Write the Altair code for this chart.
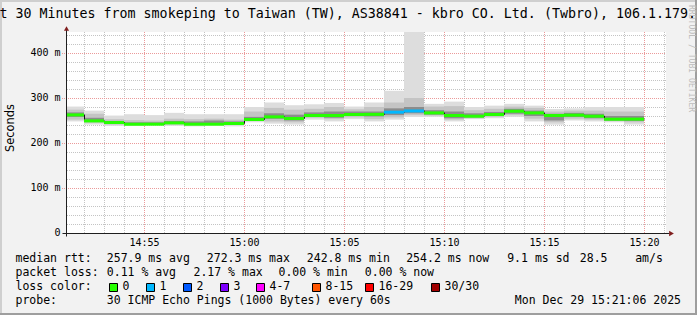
import altair as alt
import pandas as pd

# ---------------- data ----------------
# end of each one-minute step, minutes after 14:00 (52 -> 14:52 ... 80 -> 15:20)
step_end = list(range(52, 81))
median_ms = [263.6, 250.2, 246.6, 242.8, 242.9, 245.8, 242.9, 242.9, 244.4, 253.3,
             259.2, 255.5, 262.2, 262.2, 264.4, 264.8, 269.6, 272.3, 268.0, 262.2,
             260.7, 264.4, 271.8, 268.0, 262.2, 263.0, 260.7, 254.0, 254.2]
loss_pings = [0, 0, 0, 0, 0, 0, 0, 0, 0, 0, 0, 0, 0, 0, 0, 0, 1, 1, 0, 0,
              0, 0, 0, 0, 0, 0, 0, 0, 0]
smoke_outer_hi = [281, 272, 261, 264, 262, 267, 264, 264, 264, 280, 290, 284, 286, 289, 281,
                  290, 316, 470, 287, 292, 280, 283, 287, 283, 275.5, 277, 280, 280, 280]
smoke_outer_lo = [248, 241, 238, 238, 239, 238, 237, 238, 237, 246, 243, 241, 252, 248, 253,
                  248, 252, 258, 258, 248, 253, 255, 258, 248, 240.7, 250, 248, 246, 241]
smoke_mid_hi = [274, 265, 253, 251, 250, 254, 253, 254, 252, 270, 278, 274, 276, 280, 275,
                280, 290, 300, 281, 282, 273, 276, 281, 278, 270, 272, 272, 270, 270]
smoke_mid_lo = [252, 245, 241, 239, 240, 241, 239, 240, 240, 249, 248, 246, 256, 253, 257,
                253, 257, 262, 261, 252, 255, 258, 262, 254, 246, 254, 252, 249, 246]
smoke_core_hi = [268, 256, 249, 246, 246, 249, 248, 250, 248, 258, 266, 263, 268, 270, 270,
                 270, 277, 280, 273, 270, 266, 269, 276, 272, 265, 267, 265, 260, 260]
smoke_core_lo = [258, 247, 243, 240, 241, 243, 240, 241, 241, 250, 254, 250, 258, 256, 260,
                 259, 262, 266, 263, 255, 257, 260, 265, 260, 250, 258, 255, 250, 249]

loss_labels = ["0", "1", "2", "3", "4-7", "8-15", "16-29", "30/30"]
loss_colors = ["#26ff00", "#00b8ff", "#0059ff", "#7e00ff", "#ff00ff", "#ff5500", "#ff0000", "#a00000"]
stat_names = ["avg", "max", "min", "now"]
rtt_stats = [257.9, 272.3, 242.8, 254.2]
loss_stats = [0.11, 2.17, 0.00, 0.00]
rtt_sd = 9.1
rtt_am = 28.5
x_tick_values = [55, 60, 65, 70, 75, 80]
x_tick_labels = ["14:55", "15:00", "15:05", "15:10", "15:15", "15:20"]
y_tick_values = [0, 100, 200, 300, 400]
y_tick_labels = ["0\u00a0\u00a0", "100 m", "200 m", "300 m", "400 m"]
title_text = "Last 30 Minutes from smokeping to Taiwan (TW), AS38841 - kbro CO. Ltd. (Twbro), 106.1.179."
probe_text = "30 ICMP Echo Pings (1000 Bytes) every 60s"
date_text = "Mon Dec 29 15:21:06 2025"
watermark_text = "RRDTOOL / TOBI OETIKER"

# ---------------- layout / style ----------------
PL, PT, PW, PH = 66, 32, 600, 201
MONO = "DejaVu Sans Mono"
SANS = "DejaVu Sans"
BG = "#f2f2f2"
X = alt.Scale(domain=[51.1, 81.1], nice=False, zero=False)
Y = alt.Scale(domain=[0, 446.67], nice=False, zero=False)

seg_start = [51] + step_end[:-1]

# smoke bands
rows = []
for lvl, (his, los) in enumerate([(smoke_outer_hi, smoke_outer_lo),
                                  (smoke_mid_hi, smoke_mid_lo),
                                  (smoke_core_hi, smoke_core_lo)]):
    for i in range(len(step_end)):
        rows.append({"t0": seg_start[i], "t1": step_end[i], "lo": los[i], "hi": his[i], "lvl": lvl})
smoke_df = pd.DataFrame(rows)

smoke = alt.Chart(smoke_df).mark_rect(clip=True).encode(
    x=alt.X("t0:Q", scale=X, axis=None), x2="t1:Q",
    y=alt.Y("lo:Q", scale=Y, axis=None), y2="hi:Q",
    color=alt.Color("lvl:O", scale=alt.Scale(domain=[0, 1, 2], range=["#dddddd", "#c4c4c4", "#8c8c8c"]), legend=None),
)

step_df = pd.DataFrame({"t": seg_start + [step_end[-1]], "m": median_ms + [median_ms[-1]]})
step = alt.Chart(step_df).mark_line(interpolate="step-after", color="#111111", strokeWidth=1,
                                    clip=True, xOffset=0.5, yOffset=0.5).encode(
    x=alt.X("t:Q", scale=X, axis=None), y=alt.Y("m:Q", scale=Y, axis=None))

med_df = pd.DataFrame({"t0": seg_start, "t1": step_end, "m": median_ms,
                       "col": [loss_colors[l] for l in loss_pings]})
med = alt.Chart(med_df).mark_rule(strokeWidth=3, clip=True, yOffset=0.5).encode(
    x=alt.X("t0:Q", scale=X, axis=None), x2="t1:Q",
    y=alt.Y("m:Q", scale=Y, axis=None), color=alt.Color("col:N", scale=None))

# grid
minor_x = [v for v in range(52, 82) if v % 5]
minor_y = [v for v in range(20, 460, 20) if v % 100]
major_y = [v for v in y_tick_values if v > 0]

gx_minor = alt.Chart(pd.DataFrame({"t": minor_x})).mark_rule(
    color="#c4c4c4", strokeDash=[1, 1], xOffset=0.5).encode(x=alt.X("t:Q", scale=X, axis=None))
gy_minor = alt.Chart(pd.DataFrame({"v": minor_y})).mark_rule(
    color="#c4c4c4", strokeDash=[1, 1], yOffset=0.5).encode(y=alt.Y("v:Q", scale=Y, axis=None))
gx_major = alt.Chart(pd.DataFrame({"t": x_tick_values})).mark_rule(
    color="#eb9a9a", strokeDash=[1, 1], xOffset=0.5).encode(x=alt.X("t:Q", scale=X, axis=None))
gy_major = alt.Chart(pd.DataFrame({"v": major_y})).mark_rule(
    color="#eb9a9a", strokeDash=[1, 1], yOffset=0.5).encode(
    y=alt.Y("v:Q", scale=Y, axis=None), x=alt.value(-4), x2=alt.value(PW))

# tick labels placed through the scales
xlab = alt.Chart(pd.DataFrame({"t": x_tick_values, "lab": x_tick_labels})).mark_text(
    font=MONO, fontSize=10, color="#000000", align="center", baseline="middle", xOffset=0.5).encode(
    x=alt.X("t:Q", scale=X, axis=None), y=alt.value(242.7 - PT), text="lab:N")
ylab = alt.Chart(pd.DataFrame({"v": y_tick_values, "lab": y_tick_labels})).mark_text(
    font=MONO, fontSize=10, color="#000000", align="right", baseline="middle", yOffset=0.3).encode(
    y=alt.Y("v:Q", scale=Y, axis=None), x=alt.value(60.5 - PL), text="lab:N")

# axes lines and arrows (decoration, pixel space)
AX = "#1f1f1f"
xaxis = alt.Chart(pd.DataFrame({"a": [0]})).mark_rule(color=AX, strokeWidth=1).encode(
    x=alt.value(-3.5), x2=alt.value(603.5), y=alt.value(201.5))
yaxis = alt.Chart(pd.DataFrame({"a": [0]})).mark_rule(color=AX, strokeWidth=1).encode(
    x=alt.value(0.5), y=alt.value(-2), y2=alt.value(204.5))
arrow_x = alt.Chart(pd.DataFrame({"a": [0]})).mark_point(
    shape="triangle-right", filled=True, color="#801f1f", size=30, opacity=1).encode(
    x=alt.value(605.5), y=alt.value(201.5))
arrow_y = alt.Chart(pd.DataFrame({"a": [0]})).mark_point(
    shape="triangle-up", filled=True, color="#801f1f", size=26, opacity=1).encode(
    x=alt.value(0.5), y=alt.value(-3.5))


def text_layer(items, size, font, align="left", color="#000000", angle=0):
    df = pd.DataFrame(items, columns=["ax", "ay", "txt"])
    df["px"] = df["ax"] - PL
    df["py"] = df["ay"] - PT
    mk = dict(align=align, baseline="middle", font=font, fontSize=size, color=color)
    if angle:
        mk["angle"] = angle
    return alt.Chart(df).mark_text(**mk).encode(
        x=alt.X("px:Q", scale=None, axis=None), y=alt.Y("py:Q", scale=None, axis=None), text="txt:N")


ROWS_Y = [259.3, 273.3, 287.3, 301.3]
RTT_X = [106.8, 206.8, 306.8, 406.2]
LOSS_X = [106.8, 193.5, 278.5, 364.8]
SQ_X = [109, 146, 183, 220, 256, 312, 365, 431]

legend_items = [(15.5, ROWS_Y[0], "median rtt:"), (15.5, ROWS_Y[1], "packet loss:"),
                (15.5, ROWS_Y[2], "loss color:"), (15.5, ROWS_Y[3], "probe:")]
for i, n in enumerate(stat_names):
    legend_items.append((RTT_X[i], ROWS_Y[0], f"{rtt_stats[i]:.1f} ms {n}"))
    legend_items.append((LOSS_X[i], ROWS_Y[1], f"{loss_stats[i]:.2f} % {n}"))
legend_items += [(507.2, ROWS_Y[0], f"{rtt_sd:.1f} ms sd"), (579.8, ROWS_Y[0], f"{rtt_am:.1f}"),
                 (635.2, ROWS_Y[0], "am/s"), (106.8, ROWS_Y[3], probe_text)]
for i, lab in enumerate(loss_labels):
    legend_items.append((SQ_X[i] + 13.5, ROWS_Y[2], lab))

legend_text = text_layer(legend_items, 11.5, MONO)
date_layer = text_layer([(681, ROWS_Y[3], date_text)], 11.5, MONO, align="right")
title_layer = text_layer([(-24.5, 14, title_text)], 13.3, MONO)
ytitle = text_layer([(10.5, 128, "Seconds")], 11.4, SANS, align="center", angle=270)
wm = text_layer([(690.5, 5, watermark_text)], 8.1, MONO, color="#bdbdbd", angle=90)

sq_df = pd.DataFrame({"x0": [x + 0.5 - PL for x in SQ_X], "x1": [x + 8.5 - PL for x in SQ_X],
                      "y0": [283.5 - PT] * len(SQ_X), "y1": [291.5 - PT] * len(SQ_X), "c": loss_colors})
squares = alt.Chart(sq_df).mark_rect(stroke="#000000", strokeWidth=1).encode(
    x=alt.X("x0:Q", scale=None, axis=None), x2="x1:Q",
    y=alt.Y("y0:Q", scale=None, axis=None), y2="y1:Q", fill=alt.Fill("c:N", scale=None))

frame_df = pd.DataFrame({
    "x0": [0, 0, 695, 0], "x1": [2, 697, 697, 697],
    "y0": [0, 0, 0, 313], "y1": [315, 2, 315, 315],
    "c": ["#cfcfcf", "#cfcfcf", "#9e9e9e", "#9e9e9e"]})
frame_df["x0"] -= PL; frame_df["x1"] -= PL; frame_df["y0"] -= PT; frame_df["y1"] -= PT
frame = alt.Chart(frame_df).mark_rect().encode(
    x=alt.X("x0:Q", scale=None, axis=None), x2="x1:Q",
    y=alt.Y("y0:Q", scale=None, axis=None), y2="y1:Q", fill=alt.Fill("c:N", scale=None))

chart = alt.layer(
    gx_minor, gy_minor, gx_major, gy_major, smoke, step, med,
    xaxis, yaxis, arrow_x, arrow_y, xlab, ylab,
    frame, title_layer, ytitle, legend_text, date_layer, squares, wm,
).properties(
    width=PW, height=PH,
    padding={"left": PL, "top": PT, "right": 697 - PL - PW, "bottom": 315 - PT - PH},
    autosize=alt.AutoSizeParams(type="none"),
    background=BG,
).configure_view(fill="white", strokeWidth=0)

chart.save("out.html", embed_options={"renderer": "svg", "actions": False})
